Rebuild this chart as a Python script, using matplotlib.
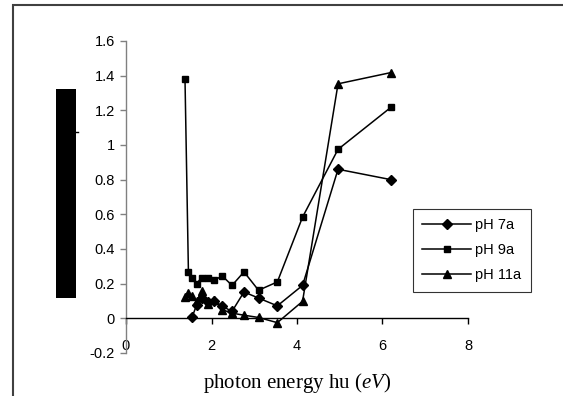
import matplotlib.pyplot as plt
from matplotlib.patches import Rectangle
from matplotlib.lines import Line2D

plt.rcParams['font.family'] = ['Liberation Sans', 'DejaVu Sans']
plt.rcParams['mathtext.fontset'] = 'custom'
plt.rcParams['mathtext.rm'] = 'Liberation Serif'
plt.rcParams['mathtext.it'] = 'Liberation Serif:italic'

# photon energies (eV)
energy = [1.38, 1.46, 1.55, 1.65, 1.77, 1.91, 2.07, 2.25, 2.48, 2.76,
          3.10, 3.54, 4.13, 4.96, 6.20]

ph7 = [0.01, 0.075, 0.12, 0.095, 0.10, 0.07, 0.04, 0.152,
       0.117, 0.072, 0.19, 0.86, 0.80]          # starts at 1.55 eV
ph9 = [1.38, 0.27, 0.235, 0.20, 0.235, 0.235, 0.22, 0.245, 0.19, 0.268,
       0.162, 0.21, 0.584, 0.975, 1.218]
ph11 = [0.125, 0.145, 0.13, 0.10, 0.155, 0.08, 0.108, 0.05, 0.03, 0.018,
        0.005, -0.025, 0.098, 1.353, 1.418]

yticks = [-0.2, 0, 0.2, 0.4, 0.6, 0.8, 1, 1.2, 1.4, 1.6]
ylabels = ['-0.2', '0', '0.2', '0.4', '0.6', '0.8', '1', '1.2', '1.4', '1.6']
xticks = [0, 2, 4, 6, 8]

fig = plt.figure(figsize=(5.63, 3.96), dpi=100)
ax = fig.add_axes([126 / 563, 1 - 353 / 396, 342 / 563, 312 / 396])

ax.plot(energy[2:], ph7, color='black', lw=1.1, marker='D', ms=4.8, label='pH 7a')
ax.plot(energy, ph9, color='black', lw=1.1, marker='s', ms=4.5, label='pH 9a')
ax.plot(energy, ph11, color='black', lw=1.1, marker='^', ms=6, label='pH 11a')

ax.set_xlim(0, 8)
ax.set_ylim(-0.2, 1.6)
ax.set_xticks(xticks)
ax.set_yticks(yticks)
ax.set_yticklabels(ylabels)

for s in ['top', 'right']:
    ax.spines[s].set_visible(False)
ax.spines['bottom'].set_position(('data', 0))
ax.spines['bottom'].set_color('black')
ax.spines['bottom'].set_linewidth(1.0)
ax.spines['left'].set_color('#808080')
ax.spines['left'].set_linewidth(1.0)

ax.tick_params(axis='y', direction='out', length=4, width=1, color='#808080',
               labelsize=10.5, pad=4)
ax.tick_params(axis='x', direction='out', length=4, width=1, color='black',
               labelsize=10.5, pad=11)

ax.set_xlabel(r'photon energy hu ($eV$)', family='Liberation Serif',
              fontsize=15, labelpad=13)

leg = ax.legend(loc='upper left', bbox_to_anchor=(287 / 342, (353 - 209) / 312),
                frameon=True, fancybox=False, fontsize=10.5, handlelength=3.3,
                borderpad=0.65, labelspacing=0.75, handletextpad=0.3,
                borderaxespad=0)
leg.get_frame().set_edgecolor('black')
leg.get_frame().set_linewidth(0.8)

# outer frame (only left and top edges visible)
fig.patches.append(Rectangle((13 / 563, -0.5), 2, 1.5 - 5 / 396,
                             transform=fig.transFigure, fill=False,
                             edgecolor='#404040', lw=1.5))
# black block over the y label area
fig.patches.append(Rectangle((56 / 563, 1 - 298 / 396), 20 / 563, 209 / 396,
                             transform=fig.transFigure, facecolor='black',
                             edgecolor='none'))
fig.lines.append(Line2D([76 / 563, 78 / 563], [1 - 132 / 396, 1 - 132 / 396],
                        transform=fig.transFigure, color='black', lw=1))

fig.savefig('out.png', dpi=100)
